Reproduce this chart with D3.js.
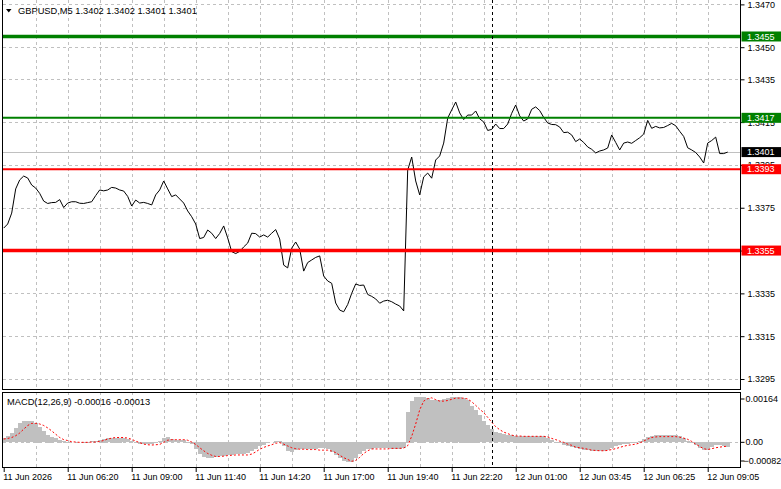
<!DOCTYPE html>
<html><head><meta charset="utf-8">
<script src="https://cdn.jsdelivr.net/npm/d3@7"></script>
<style>html,body{margin:0;padding:0;background:#fff;overflow:hidden}svg{display:block}</style>
</head><body>
<svg id="chart" width="781" height="489"></svg>
<script>
// ---------- DATA ----------
const symbolTitle = "GBPUSD,M5  1.3402 1.3402 1.3401 1.3401";
const macdTitle = "MACD(12,26,9) -0.00016 -0.00013";
const timeLabels = ["11 Jun 2026","11 Jun 06:20","11 Jun 09:00","11 Jun 11:40","11 Jun 14:20","11 Jun 17:00","11 Jun 19:40","11 Jun 22:20","12 Jun 01:00","12 Jun 03:45","12 Jun 06:25","12 Jun 09:05"];
const barsPerLabel = 32;      // M5 bars between time labels
const barsPerGrid = 16;       // bars between vertical grid lines
const sampleStep = 2;         // bars between the read-off samples below
const totalBars = 368;
const markerBar = 244;        // dashed period separator
const priceTicks = [1.3470,1.3450,1.3435,1.3415,1.3395,1.3375,1.3355,1.3335,1.3315,1.3295];
const macdTicks = [0.00164, 0, -0.00082];
const levelPrices = [1.3455, 1.3417, 1.3393, 1.3355];
const levelKinds = ["resistance","resistance","support","support"];
const levelStrength = ["major","minor","minor","major"];
const bidPrice = 1.3401;

const closes = [
1.33655,1.33674,1.33725,1.33838,1.33880,1.33898,1.33889,1.33856,1.33842,1.33817,
1.33781,1.33770,1.33774,1.33775,1.33788,1.33751,1.33772,1.33778,1.33778,1.33771,
1.33770,1.33774,1.33778,1.33807,1.33833,1.33829,1.33833,1.33845,1.33842,1.33833,
1.33828,1.33803,1.33758,1.33786,1.33772,1.33775,1.33770,1.33763,1.33810,1.33833,
1.33875,1.33838,1.33802,1.33810,1.33791,1.33772,1.33735,1.33708,1.33674,1.33606,
1.33611,1.33646,1.33631,1.33606,1.33630,1.33665,1.33609,1.33545,1.33536,1.33546,
1.33567,1.33585,1.33631,1.33629,1.33613,1.33623,1.33613,1.33631,1.33648,1.33604,
1.33482,1.33469,1.33561,1.33590,1.33557,1.33454,1.33494,1.33506,1.33518,1.33525,
1.33431,1.33408,1.33397,1.33305,1.33272,1.33264,1.33298,1.33350,1.33394,1.33387,
1.33389,1.33345,1.33336,1.33324,1.33304,1.33314,1.33318,1.33311,1.33300,1.33291,
1.33268,1.33926,1.33987,1.33875,1.33810,1.33894,1.33912,1.33888,1.33973,1.33992,
1.34052,1.34169,1.34207,1.34244,1.34193,1.34162,1.34183,1.34183,1.34202,1.34165,
1.34151,1.34111,1.34116,1.34141,1.34120,1.34120,1.34141,1.34191,1.34230,1.34179,
1.34155,1.34165,1.34210,1.34221,1.34204,1.34172,1.34146,1.34139,1.34138,1.34127,
1.34101,1.34103,1.34090,1.34059,1.34071,1.34055,1.34034,1.34023,1.34006,1.34015,
1.34020,1.34029,1.34090,1.34055,1.34020,1.34052,1.34057,1.34051,1.34064,1.34077,
1.34094,1.34158,1.34121,1.34130,1.34123,1.34125,1.34134,1.34144,1.34133,1.34107,
1.34083,1.34030,1.34020,1.34008,1.33987,1.33959,1.34052,1.34064,1.34080,1.34003,
1.34003,1.34010];

const macdMain = [
0.00016,0.00020,0.00031,0.00048,0.00063,0.00070,0.00072,0.00071,0.00065,0.00052,
0.00038,0.00026,0.00019,0.00014,0.00009,0.00004,0.00002,0.00001,0.00001,0.00001,
0.00002,0.00002,0.00003,0.00004,0.00008,0.00012,0.00014,0.00016,0.00016,0.00016,
0.00014,0.00011,0.00004,-0.00002,-0.00006,-0.00007,-0.00007,-0.00006,-0.00003,0.00003,
0.00013,0.00017,0.00011,0.00008,0.00008,0.00008,0.00002,-0.00008,-0.00024,-0.00041,
-0.00050,-0.00052,-0.00052,-0.00049,-0.00047,-0.00046,-0.00044,-0.00042,-0.00041,-0.00040,
-0.00039,-0.00036,-0.00029,-0.00022,-0.00014,-0.00009,-0.00004,-0.00001,0.00003,0.00004,
-0.00013,-0.00030,-0.00032,-0.00027,-0.00023,-0.00022,-0.00022,-0.00022,-0.00022,-0.00021,
-0.00020,-0.00022,-0.00033,-0.00044,-0.00053,-0.00062,-0.00068,-0.00067,-0.00053,-0.00039,
-0.00029,-0.00024,-0.00022,-0.00021,-0.00020,-0.00020,-0.00020,-0.00022,-0.00022,-0.00022,
-0.00020,0.00100,0.00139,0.00150,0.00152,0.00152,0.00147,0.00142,0.00140,0.00141,
0.00144,0.00148,0.00151,0.00152,0.00150,0.00148,0.00142,0.00122,0.00109,0.00091,
0.00072,0.00056,0.00043,0.00036,0.00031,0.00027,0.00024,0.00023,0.00022,0.00022,
0.00022,0.00022,0.00022,0.00022,0.00022,0.00020,0.00014,0.00008,0.00002,-0.00004,
-0.00010,-0.00013,-0.00017,-0.00020,-0.00023,-0.00027,-0.00028,-0.00030,-0.00030,-0.00030,
-0.00029,-0.00026,-0.00019,-0.00013,-0.00010,-0.00008,-0.00006,-0.00003,-0.00002,0.00004,
0.00011,0.00018,0.00022,0.00024,0.00024,0.00024,0.00024,0.00024,0.00023,0.00021,
0.00014,0.00004,-0.00003,-0.00011,-0.00020,-0.00028,-0.00027,-0.00018,-0.00010,-0.00009,
-0.00014,-0.00016];

const macdSignal = [
0.00011,0.00013,0.00016,0.00022,0.00031,0.00044,0.00056,0.00063,0.00063,0.00061,
0.00056,0.00048,0.00038,0.00027,0.00016,0.00009,0.00006,0.00002,0.00001,0,
0,0,0.00001,0.00001,0.00003,0.00006,0.00011,0.00014,0.00016,0.00016,
0.00016,0.00014,0.00010,0.00004,-0.00001,-0.00006,-0.00008,-0.00009,-0.00008,-0.00007,
0,0.00007,0.00009,0.00009,0.00009,0.00009,0.00007,0.00001,-0.00007,-0.00018,
-0.00028,-0.00037,-0.00043,-0.00047,-0.00047,-0.00046,-0.00044,-0.00043,-0.00042,-0.00042,
-0.00042,-0.00042,-0.00039,-0.00032,-0.00023,-0.00017,-0.00012,-0.00008,-0.00003,-0.00001,
-0.00006,-0.00012,-0.00018,-0.00021,-0.00023,-0.00023,-0.00024,-0.00024,-0.00024,-0.00026,
-0.00026,-0.00026,-0.00029,-0.00034,-0.00043,-0.00051,-0.00057,-0.00063,-0.00060,-0.00050,
-0.00037,-0.00028,-0.00022,-0.00022,-0.00022,-0.00022,-0.00022,-0.00020,-0.00020,-0.00020,
-0.00019,-0.00011,0.00020,0.00061,0.00108,0.00137,0.00145,0.00148,0.00142,0.00137,
0.00137,0.00139,0.00143,0.00147,0.00147,0.00147,0.00144,0.00135,0.00123,0.00110,
0.00099,0.00083,0.00067,0.00052,0.00042,0.00034,0.00029,0.00024,0.00021,0.00021,
0.00020,0.00020,0.00020,0.00020,0.00020,0.00020,0.00018,0.00013,0.00009,0.00004,
0,-0.00006,-0.00010,-0.00016,-0.00018,-0.00020,-0.00023,-0.00026,-0.00027,-0.00028,
-0.00028,-0.00027,-0.00024,-0.00021,-0.00017,-0.00013,-0.00010,-0.00008,-0.00006,-0.00002,
0.00004,0.00011,0.00016,0.00018,0.00019,0.00019,0.00019,0.00019,0.00019,0.00017,
0.00014,0.00010,0.00003,-0.00006,-0.00014,-0.00021,-0.00024,-0.00021,-0.00018,-0.00016,
-0.00014,-0.00013];

// ---------- LAYOUT ----------
const FONT = "'Liberation Sans', Arial, sans-serif";
const W = 781, H = 489;
const left = 3, right = 740;
const mainTop = 0, mainBottom = 389;
const macdTop = 392, macdBottom = 468;
const GRID = "#c0c0c0";
const levelColor = {resistance: "#008000", support: "#ff0000"};
const levelWidth = {major: 3.5, minor: 2};

const svg = d3.select("#chart").style("font-family", FONT);
svg.append("rect").attr("width", W).attr("height", H).attr("fill", "#fff");

const x = d3.scaleLinear().domain([0, totalBars]).range([3.7, 739.7]);
const y = d3.scaleLinear().domain([1.3435, 1.3295]).range([79.3, 379]);
const ym = d3.scaleLinear().domain([0.00164, -0.00082]).range([393, 467]);

const defs = svg.append("defs");
defs.append("clipPath").attr("id", "clipMain").append("rect")
  .attr("x", left).attr("y", mainTop).attr("width", right - left).attr("height", mainBottom - mainTop);
defs.append("clipPath").attr("id", "clipMacd").append("rect")
  .attr("x", left).attr("y", macdTop).attr("width", right - left).attr("height", macdBottom - macdTop);

const gridBars = d3.range(barsPerGrid, totalBars, barsPerGrid);
const labelBars = timeLabels.map((_, i) => i * barsPerLabel);

// ---------- MAIN PANEL ----------
const gMain = svg.append("g").attr("clip-path", "url(#clipMain)");
gMain.selectAll("line.vg").data(gridBars).join("line")
  .attr("x1", d => Math.round(x(d)) + 0.5).attr("x2", d => Math.round(x(d)) + 0.5)
  .attr("y1", mainTop).attr("y2", mainBottom)
  .attr("stroke", GRID).attr("stroke-dasharray", "3,3");
gMain.selectAll("line.hg").data(priceTicks).join("line")
  .attr("x1", left).attr("x2", right)
  .attr("y1", d => Math.round(y(d)) + 0.5).attr("y2", d => Math.round(y(d)) + 0.5)
  .attr("stroke", GRID).attr("stroke-dasharray", "3,3");

// bid line
gMain.append("line").attr("x1", left).attr("x2", right)
  .attr("y1", Math.round(y(bidPrice)) + 0.5).attr("y2", Math.round(y(bidPrice)) + 0.5)
  .attr("stroke", "#c0c0c0");

const sampleBars = closes.map((_, i) => i * sampleStep);
const line = d3.line().x((d, i) => x(sampleBars[i])).y(d => y(d));
gMain.append("path").datum(closes).attr("d", line)
  .attr("fill", "none").attr("stroke", "#000").attr("stroke-width", 1);

levelPrices.forEach((p, i) => {
  gMain.append("line").attr("x1", left).attr("x2", right)
    .attr("y1", y(p)).attr("y2", y(p))
    .attr("stroke", levelColor[levelKinds[i]]).attr("stroke-width", levelWidth[levelStrength[i]]);
});

// ---------- MACD PANEL ----------
const gMacd = svg.append("g").attr("clip-path", "url(#clipMacd)");
gMacd.selectAll("line.vg").data(gridBars).join("line")
  .attr("x1", d => Math.round(x(d)) + 0.5).attr("x2", d => Math.round(x(d)) + 0.5)
  .attr("y1", macdTop).attr("y2", macdBottom)
  .attr("stroke", GRID).attr("stroke-dasharray", "3,3");
gMacd.append("line").attr("x1", left).attr("x2", right)
  .attr("y1", Math.round(ym(0)) + 0.5).attr("y2", Math.round(ym(0)) + 0.5)
  .attr("stroke", GRID).attr("stroke-dasharray", "3,3");
const barW = Math.round(x(sampleStep) - x(0));
gMacd.selectAll("rect.h").data(macdMain).join("rect")
  .attr("x", (d, i) => Math.round(x(sampleBars[i]) - barW / 2))
  .attr("width", barW)
  .attr("y", d => Math.round(Math.min(ym(d), ym(0))))
  .attr("height", d => Math.max(0, Math.round(Math.abs(ym(d) - ym(0)))))
  .attr("fill", "#c0c0c0")
  .attr("shape-rendering", "crispEdges");
const sigLine = d3.line().x((d, i) => x(sampleBars[i])).y(d => ym(d));
gMacd.append("path").datum(macdSignal).attr("d", sigLine)
  .attr("fill", "none").attr("stroke", "#ff0000").attr("stroke-width", 1)
  .attr("stroke-dasharray", "2,2");

// period separator
svg.append("line").attr("x1", Math.round(x(markerBar)) + 0.5).attr("x2", Math.round(x(markerBar)) + 0.5)
  .attr("y1", mainTop).attr("y2", macdBottom)
  .attr("stroke", "#000").attr("stroke-dasharray", "3,3");

// frames
svg.append("line").attr("x1", left - 0.5).attr("x2", left - 0.5).attr("y1", 0).attr("y2", mainBottom).attr("stroke", "#000");
svg.append("line").attr("x1", right + 0.5).attr("x2", right + 0.5).attr("y1", 0).attr("y2", mainBottom).attr("stroke", "#000");
svg.append("line").attr("x1", left - 1).attr("x2", right + 1).attr("y1", mainBottom + 0.5).attr("y2", mainBottom + 0.5).attr("stroke", "#000");
svg.append("rect").attr("x", left - 0.5).attr("y", macdTop + 0.5)
  .attr("width", right - left + 1).attr("height", macdBottom - macdTop - 1)
  .attr("fill", "none").attr("stroke", "#000");

// ---------- AXES ----------
const priceAxis = d3.axisRight(y).tickValues(priceTicks).tickSize(4).tickPadding(3)
  .tickFormat(d3.format(".4f"));
const gpa = svg.append("g").attr("transform", `translate(${right + 0.5},0)`).call(priceAxis);
gpa.select(".domain").remove();
gpa.selectAll("text").attr("font-family", FONT).attr("font-size", 9).attr("fill", "#000");
gpa.selectAll("line").attr("stroke", "#000");

const macdAxis = d3.axisRight(ym).tickValues(macdTicks).tickSize(4).tickPadding(2)
  .tickFormat(d => d === 0 ? "0.00" : d3.format(".5f")(d));
const gma = svg.append("g").attr("transform", `translate(${right + 0.5},0)`).call(macdAxis);
gma.select(".domain").remove();
gma.selectAll(".tick").attr("transform", d => `translate(0,${Math.max(macdTop + 7, Math.min(macdBottom - 7, ym(d)))})`);
gma.selectAll("text").attr("font-family", FONT).attr("font-size", 9).attr("fill", "#000")
  .attr("x", d => d < 0 ? 3 : 5);
gma.selectAll("line").attr("stroke", "#000");

const timeAxis = d3.axisBottom(x).tickValues(labelBars).tickSize(4).tickPadding(2)
  .tickFormat((d, i) => timeLabels[i]);
const gta = svg.append("g").attr("transform", `translate(0,${macdBottom})`).call(timeAxis);
gta.select(".domain").remove();
gta.selectAll("text").attr("font-family", FONT).attr("font-size", 9).attr("fill", "#000")
  .attr("text-anchor", "start").attr("x", -1);
gta.selectAll("line").attr("stroke", "#000");

// ---------- PRICE TAGS ----------
const tags = levelPrices.map((p, i) => ({p, bg: levelColor[levelKinds[i]]}));
tags.push({p: bidPrice, bg: "#000"});
const gt = svg.append("g");
tags.forEach(t => {
  const cy = y(t.p);
  gt.append("rect").attr("x", right + 1.5).attr("y", cy - 5).attr("width", W - right).attr("height", 10).attr("fill", t.bg);
  gt.append("text").attr("x", right + 7).attr("y", cy).attr("dy", "0.35em")
    .attr("font-size", 9).attr("fill", "#fff").text(d3.format(".4f")(t.p));
});

// ---------- TITLES ----------
svg.append("path").attr("d", "M6,9 L11.5,9 L8.75,12.5 Z").attr("fill", "#000");
svg.append("text").attr("x", 18).attr("y", 11).attr("dy", "0.35em")
  .attr("font-size", 9.3).attr("fill", "#000").text(symbolTitle);
svg.append("text").attr("x", 7).attr("y", 402).attr("dy", "0.35em")
  .attr("font-size", 9.3).attr("fill", "#000").text(macdTitle);
</script>
</body></html>
